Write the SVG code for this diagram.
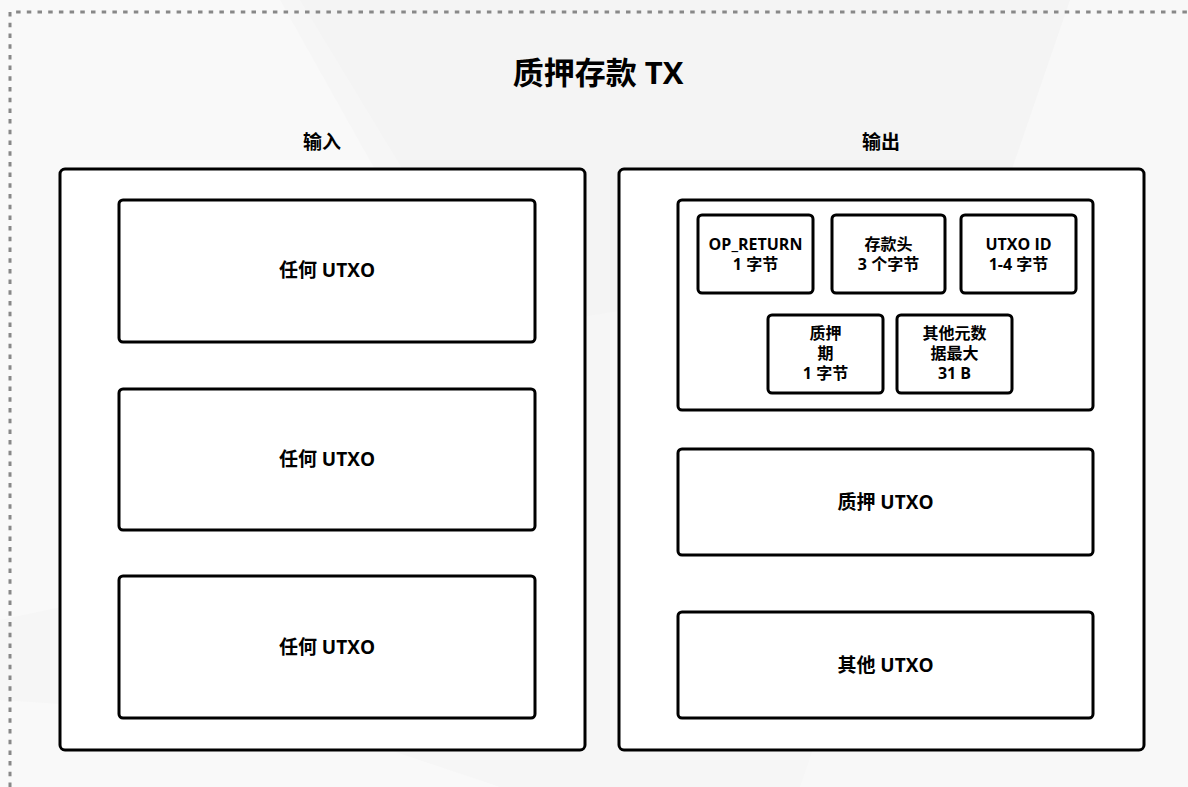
<svg xmlns="http://www.w3.org/2000/svg" width="1188" height="787" viewBox="0 0 1188 787">
<style>
.box{fill:#fff;stroke:#000;stroke-width:3}
.t{font-family:"Open Sans","Noto Sans CJK SC",sans-serif;font-weight:bold;fill:#000;text-anchor:middle}
.lbl{font-size:19px}
.sm{font-size:16px}
</style>
<rect x="0" y="0" width="1188" height="787" fill="#f6f6f6"/>
<polygon points="0,0 280,0 560,500 0,620" fill="#f9f9f9"/>
<polygon points="300,0 1188,0 1188,220 500,330" fill="#f4f4f4"/>
<polygon points="1070,0 1188,0 1188,787 800,787" fill="#f8f8f8"/>
<polygon points="0,787 0,700 300,720 500,787" fill="#f9f9f9"/>
<path d="M10 787 V12 H1188" fill="none" stroke="#888" stroke-width="3" stroke-dasharray="4.5 6.2"/>
<text class="t" x="598" y="84" font-size="31">质押存款 TX</text>
<text class="t lbl" x="322" y="149">输入</text>
<text class="t lbl" x="881" y="149">输出</text>
<g id="inputs">
<rect class="box" x="60" y="169" width="525" height="581" rx="5"/>
</g>
<g id="in1"><rect class="box" x="119" y="200" width="416" height="142" rx="4"/><text class="t lbl" x="327" y="277">任何 UTXO</text></g>
<g id="in2"><rect class="box" x="119" y="389" width="416" height="141" rx="4"/><text class="t lbl" x="327" y="466">任何 UTXO</text></g>
<g id="in3"><rect class="box" x="119" y="576" width="416" height="142" rx="4"/><text class="t lbl" x="327" y="654">任何 UTXO</text></g>
<g id="outputs">
<rect class="box" x="619" y="169" width="525" height="581" rx="5"/>
</g>
<g id="opret"><rect class="box" x="678" y="200" width="415" height="210" rx="4"/></g>
<g id="op"><rect class="box" x="698" y="215" width="115" height="78" rx="4"/><text class="t sm" x="755.5" y="250">OP_RETURN</text><text class="t sm" x="755.5" y="270">1 字节</text></g>
<g id="hdr"><rect class="box" x="832" y="215" width="113" height="78" rx="4"/><text class="t sm" x="888.5" y="250">存款头</text><text class="t sm" x="888.5" y="270">3 个字节</text></g>
<g id="uid"><rect class="box" x="961" y="215" width="115" height="78" rx="4"/><text class="t sm" x="1018.5" y="250">UTXO ID</text><text class="t sm" x="1018.5" y="270">1-4 字节</text></g>
<g id="period"><rect class="box" x="768" y="315" width="115" height="78" rx="4"/><text class="t sm" x="825.5" y="339">质押</text><text class="t sm" x="825.5" y="359">期</text><text class="t sm" x="825.5" y="379">1 字节</text></g>
<g id="meta"><rect class="box" x="897" y="315" width="115" height="78" rx="4"/><text class="t sm" x="954.5" y="339">其他元数</text><text class="t sm" x="954.5" y="359">据最大</text><text class="t sm" x="954.5" y="379">31 B</text></g>
<g id="stake"><rect class="box" x="678" y="449" width="415" height="106" rx="4"/><text class="t lbl" x="885.5" y="509">质押 UTXO</text></g>
<g id="other"><rect class="box" x="678" y="612" width="415" height="106" rx="4"/><text class="t lbl" x="885.5" y="672">其他 UTXO</text></g>
<g id="connectors"></g>
</svg>
